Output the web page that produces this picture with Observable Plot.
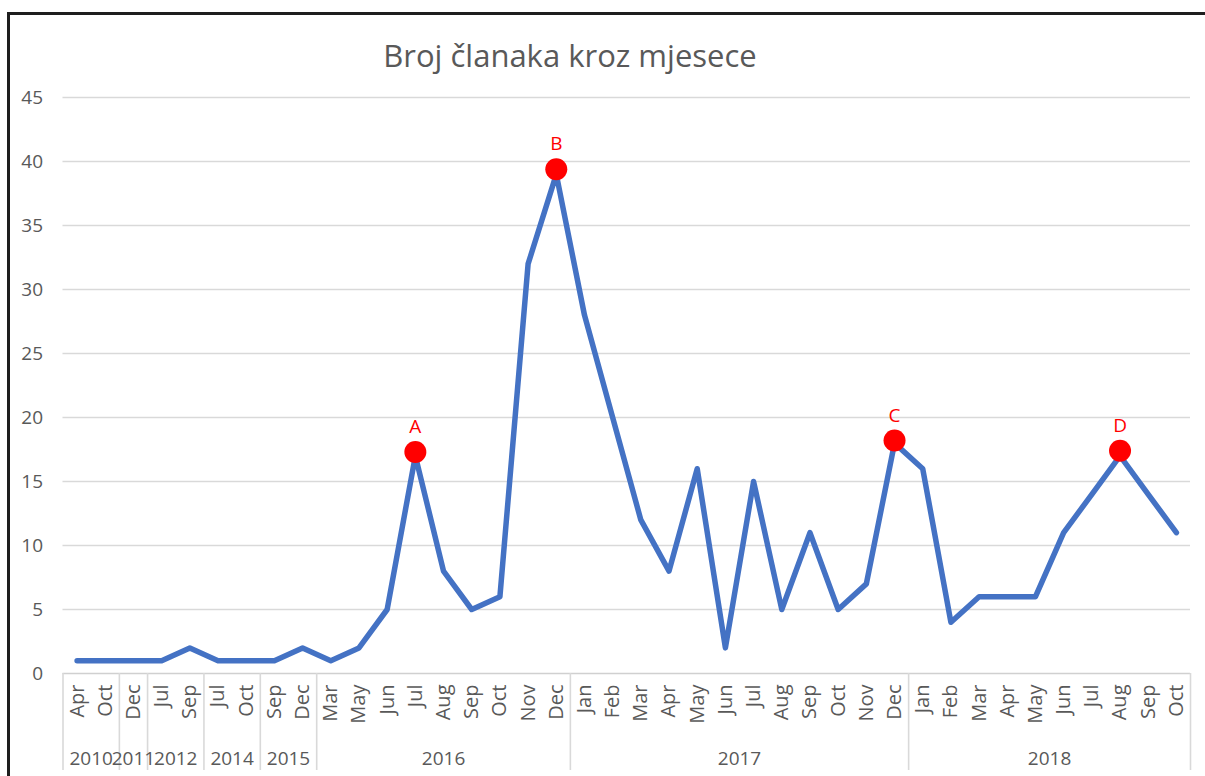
<!DOCTYPE html>
<html>
<head>
<meta charset="utf-8">
<script src="https://cdn.jsdelivr.net/npm/d3@7"></script>
<script src="https://cdn.jsdelivr.net/npm/@observablehq/plot@0.6"></script>
<style>
  html, body { margin: 0; padding: 0; background: #fff; overflow: hidden; width: 1205px; height: 776px; }
  #wrap { position: relative; width: 1205px; height: 776px; }
  #frame { position: absolute; left: 7px; top: 12px; width: 1400px; height: 1000px; border-left: 3px solid #1e1e1e; border-top: 3px solid #1e1e1e; pointer-events: none; z-index: 2; }
  #title { position: relative; height: 80px; }
  #title span { position: absolute; left: 570px; top: 40px; transform: translateX(-50%); white-space: nowrap;
    font-family: "Open Sans", sans-serif; font-size: 31px; line-height: 1; color: #595959; }
</style>
</head>
<body>
<div id="wrap">
  <div id="frame"></div>
  <div id="title"><span>Broj članaka kroz mjesece</span></div>
  <div id="chart"></div>
</div>
<script>
// Category labels (month, year) and values for each point
const months = ["Apr","Oct","Dec","Jul","Sep","Jul","Oct","Sep","Dec",
  "Mar","May","Jun","Jul","Aug","Sep","Oct","Nov","Dec",
  "Jan","Feb","Mar","Apr","May","Jun","Jul","Aug","Sep","Oct","Nov","Dec",
  "Jan","Feb","Mar","Apr","May","Jun","Jul","Aug","Sep","Oct"];
const years = ["2010","2010","2011","2012","2012","2014","2014","2015","2015",
  "2016","2016","2016","2016","2016","2016","2016","2016","2016",
  "2017","2017","2017","2017","2017","2017","2017","2017","2017","2017","2017","2017",
  "2018","2018","2018","2018","2018","2018","2018","2018","2018","2018"];
const values = [1,1,1,1,2,1,1,1,2,
  1,2,5,17,8,5,6,32,39,
  28,20,12,8,16,2,15,5,11,5,7,18,
  16,4,6,6,6,11,14,17,14,11];

// Highlighted points
const markerLabels = ["A","B","C","D"];
const markerIndex = [12,17,29,37];
const markerValues = [17.3,39.4,18.2,17.4];

// Y axis ticks
const yTicks = [0,5,10,15,20,25,30,35,40,45];

const points = values.map((v,i) => ({i, v, month: months[i], year: years[i]}));
const markers = markerLabels.map((l,k) => ({label: l, i: markerIndex[k], v: markerValues[k]}));

// Year groups (center and boundaries)
const groups = [];
points.forEach(p => {
  const g = groups[groups.length-1];
  if (g && g.year === p.year) g.end = p.i;
  else groups.push({year: p.year, start: p.i, end: p.i});
});
groups.forEach(g => g.center = (g.start + g.end) / 2);
const bounds = [groups[0].start - 0.5, ...groups.map(g => g.end + 0.5)];

const n = values.length;
const chart = Plot.plot({
  width: 1205,
  height: 696,
  marginTop: 17,
  marginBottom: 103,
  marginLeft: 62.5,
  marginRight: 15,
  style: {fontFamily: "Open Sans, sans-serif", fontSize: "19px", color: "#595959", background: "transparent"},
  x: {type: "linear", domain: [-0.5, n - 0.5]},
  y: {domain: [0, 45]},
  marks: [
    Plot.gridY(yTicks.filter(t => t > 0), {stroke: "#d9d9d9", strokeOpacity: 1, strokeWidth: 1.6}),
    Plot.ruleY([0], {stroke: "#d0d0d0", strokeWidth: 1.6}),
    Plot.axisY(yTicks, {tickSize: 0, tickPadding: 20, fill: "#595959", fontSize: 19, label: null}),
    Plot.axisX(bounds, {tickSize: 97, tickFormat: () => "", stroke: "#d9d9d9", strokeWidth: 1.6, label: null}),
    Plot.text(points, {x: "i", text: "month", frameAnchor: "bottom", rotate: -90, textAnchor: "end",
      lineAnchor: "middle", dy: 11, fill: "#595959", fontSize: 20}),
    Plot.text(groups, {x: "center", text: "year", frameAnchor: "bottom", dy: 85, lineAnchor: "middle",
      fill: "#595959", fontSize: 19}),
    Plot.line(points, {x: "i", y: "v", stroke: "#4472C4", strokeWidth: 5.5, strokeLinejoin: "round", strokeLinecap: "round"}),
    Plot.dot(markers, {x: "i", y: "v", r: 11, fill: "#FF0000", stroke: "none"}),
    Plot.text(markers, {x: "i", y: "v", text: "label", dy: -25, fill: "#FF0000", fontSize: 19, lineAnchor: "middle"})
  ]
});
document.getElementById("chart").appendChild(chart);
</script>
</body>
</html>
